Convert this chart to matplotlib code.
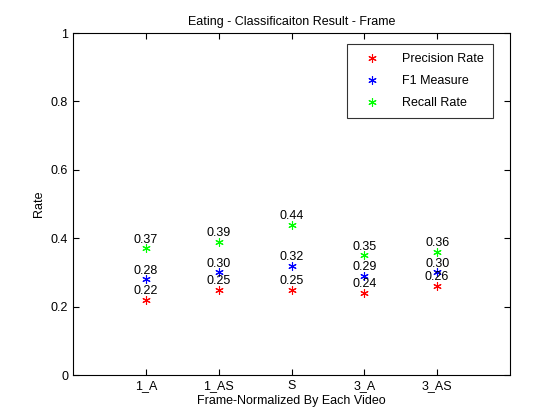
import numpy as np
import matplotlib.pyplot as plt

categories = ['1_A', '1_AS', 'S', '3_A', '3_AS']
precision = [0.22, 0.25, 0.25, 0.24, 0.26]
f1 = [0.28, 0.30, 0.32, 0.29, 0.30]
recall = [0.37, 0.39, 0.44, 0.35, 0.36]

plt.rcParams['font.family'] = ['Liberation Sans', 'DejaVu Sans']
plt.rcParams['font.size'] = 9

fig = plt.figure(figsize=(5.6, 4.2), dpi=100)
ax = fig.add_axes([73/560, 45/420, 437/560, 342/420])
x = np.arange(1, len(categories) + 1)

star = (6, 2, 0)  # asterisk marker
ax.plot(x, precision, ls='none', marker=star, color='r', ms=6, mew=0.8, label='Precision Rate')
ax.plot(x, f1, ls='none', marker=star, color='b', ms=6, mew=0.8, label='F1 Measure')
ax.plot(x, recall, ls='none', marker=star, color='#00ff00', ms=6, mew=0.8, label='Recall Rate')

for series in (precision, f1, recall):
    for xi, v in zip(x, series):
        ax.text(xi, v + 0.008, '%.2f' % v, ha='center', va='bottom', fontsize=9)

ax.set_xlim(0, 6)
ax.set_ylim(0, 1)
ax.set_xticks(x)
ax.set_xticklabels(categories)
ax.set_yticks([0, 0.2, 0.4, 0.6, 0.8, 1])
ax.set_yticklabels(['0', '0.2', '0.4', '0.6', '0.8', '1'])
ax.tick_params(direction='in', top=True, right=True, length=4)
ax.set_xlabel('Frame-Normalized By Each Video', labelpad=2)
ax.set_ylabel('Rate')
ax.set_title('Eating - Classificaiton Result - Frame', fontsize=9)
leg = ax.legend(loc='upper right', fancybox=False, edgecolor='k', borderpad=0.7,
                handletextpad=1.2, labelspacing=0.8, handlelength=2.5,
                bbox_to_anchor=(0.975, 0.985))
leg.get_frame().set_linewidth(0.8)

fig.savefig('out.png')
